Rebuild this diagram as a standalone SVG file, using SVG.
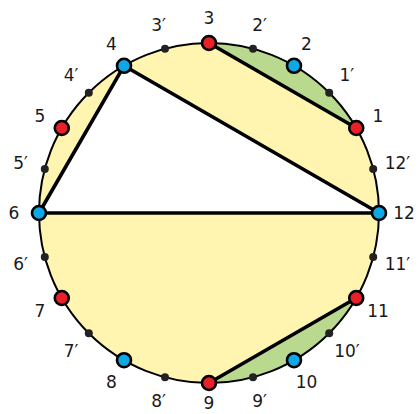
<svg xmlns="http://www.w3.org/2000/svg" width="420" height="414" viewBox="0 0 420 414">
<style>
.lbl{font-family:"DejaVu Sans",sans-serif;font-size:17px;fill:#1a1a1a;text-anchor:middle;dominant-baseline:central}
.red{fill:#e8202a;stroke:#000;stroke-width:2.6}
.blue{fill:#0fa8e6;stroke:#000;stroke-width:2.6}
.dot{fill:#222}
.chord{stroke:#000;stroke-width:3.6;stroke-linecap:round}
</style>
<rect width="420" height="414" fill="#fff"/>
<g id="regions">
<circle cx="209" cy="213" r="170" fill="#fff5b0"/>
<polygon points="124,65.78 39,213 379,213" fill="#fff"/>
<path d="M209,43 A170,170 0 0 1 356.22,128 Z" fill="#b9d98f"/>
<path d="M209,383 A170,170 0 0 0 356.22,298 Z" fill="#b9d98f"/>
<circle cx="209" cy="213" r="170" fill="none" stroke="#000" stroke-width="2"/>
</g>
<g id="connectors">
<line class="chord" x1="209" y1="43" x2="356.22" y2="128"/>
<line class="chord" x1="124" y1="65.78" x2="379" y2="213"/>
<line class="chord" x1="124" y1="65.78" x2="39" y2="213"/>
<line class="chord" x1="39" y1="213" x2="379" y2="213"/>
<line class="chord" x1="209" y1="383" x2="356.22" y2="298"/>
</g>
<g id="n1"><circle class="red" cx="356.22" cy="128" r="7"/><text class="lbl" x="378" y="115.5">1</text></g>
<g id="n2"><circle class="blue" cx="294" cy="65.78" r="7"/><text class="lbl" x="306.5" y="44">2</text></g>
<g id="n3"><circle class="red" cx="209" cy="43" r="7"/><text class="lbl" x="209" y="18">3</text></g>
<g id="n4"><circle class="blue" cx="124" cy="65.78" r="7"/><text class="lbl" x="111.5" y="44">4</text></g>
<g id="n5"><circle class="red" cx="61.78" cy="128" r="7"/><text class="lbl" x="40" y="115.5">5</text></g>
<g id="n6"><circle class="blue" cx="39" cy="213" r="7"/><text class="lbl" x="14" y="213">6</text></g>
<g id="n7"><circle class="red" cx="61.78" cy="298" r="7"/><text class="lbl" x="40" y="310.5">7</text></g>
<g id="n8"><circle class="blue" cx="124" cy="360.22" r="7"/><text class="lbl" x="111.5" y="382">8</text></g>
<g id="n9"><circle class="red" cx="209" cy="383" r="7"/><text class="lbl" x="209" y="403">9</text></g>
<g id="n10"><circle class="blue" cx="294" cy="360.22" r="7"/><text class="lbl" x="306.5" y="382">10</text></g>
<g id="n11"><circle class="red" cx="356.22" cy="298" r="7"/><text class="lbl" x="378" y="310.5">11</text></g>
<g id="n12"><circle class="blue" cx="379" cy="213" r="7"/><text class="lbl" x="404" y="213">12</text></g>
<g id="p12"><circle class="dot" cx="373.2" cy="169" r="4"/><text class="lbl" x="397.4" y="162.5">12′</text></g>
<g id="p1"><circle class="dot" cx="329.2" cy="92.8" r="4"/><text class="lbl" x="346.9" y="75">1′</text></g>
<g id="p2"><circle class="dot" cx="253" cy="48.8" r="4"/><text class="lbl" x="259.5" y="24.6">2′</text></g>
<g id="p3"><circle class="dot" cx="165" cy="48.8" r="4"/><text class="lbl" x="158.5" y="24.6">3′</text></g>
<g id="p4"><circle class="dot" cx="88.8" cy="92.8" r="4"/><text class="lbl" x="71.1" y="75">4′</text></g>
<g id="p5"><circle class="dot" cx="44.8" cy="169" r="4"/><text class="lbl" x="20.6" y="162.5">5′</text></g>
<g id="p6"><circle class="dot" cx="44.8" cy="257" r="4"/><text class="lbl" x="20.6" y="263.5">6′</text></g>
<g id="p7"><circle class="dot" cx="88.8" cy="333.2" r="4"/><text class="lbl" x="71.1" y="351">7′</text></g>
<g id="p8"><circle class="dot" cx="165" cy="377.2" r="4"/><text class="lbl" x="158.5" y="401.4">8′</text></g>
<g id="p9"><circle class="dot" cx="253" cy="377.2" r="4"/><text class="lbl" x="259.5" y="401.4">9′</text></g>
<g id="p10"><circle class="dot" cx="329.2" cy="333.2" r="4"/><text class="lbl" x="346.9" y="351">10′</text></g>
<g id="p11"><circle class="dot" cx="373.2" cy="257" r="4"/><text class="lbl" x="397.4" y="263.5">11′</text></g>
</svg>
